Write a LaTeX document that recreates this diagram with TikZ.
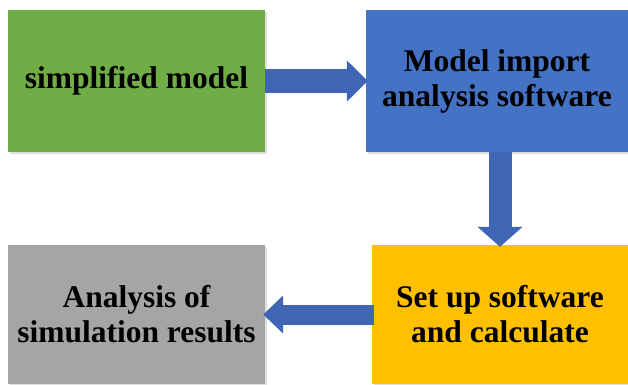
\documentclass[tikz,border=0pt]{standalone}
\usepackage{fontspec}
\setmainfont{Liberation Serif}
\usepackage{xcolor}
\usepackage{tikz}
\usetikzlibrary{calc,arrows.meta,positioning,shadows}
\definecolor{stageGreen}{RGB}{112,173,71}
\definecolor{stageBlue}{RGB}{68,114,196}
\definecolor{stageGray}{RGB}{165,165,165}
\definecolor{stageYellow}{RGB}{255,192,0}
\definecolor{flowBlue}{RGB}{64,101,180}

\tikzset{
  stagebox/.style={draw=none, inner sep=0pt, align=center,
    font=\bfseries\fontsize{31.5}{35}\selectfont,
    drop shadow={shadow xshift=2pt, shadow yshift=-2pt, opacity=0.25}},
  flowarrow/.style={flowBlue, line width=#1, line cap=butt}
}

\begin{document}
\begin{tikzpicture}[x=1pt,y=1pt]
\useasboundingbox (0,0) rectangle (628,384);
\fill[white] (0,0) rectangle (628,384);
% the four stages
\node[stagebox, fill=stageGreen, minimum width=257pt, minimum height=142pt] (simp) at (136.5,303) {simplified model};
\node[stagebox, fill=stageBlue, minimum width=262pt, minimum height=142pt] (imp) at (497,303) {Model import\\analysis software};
\node[stagebox, fill=stageYellow, minimum width=256pt, minimum height=139pt] (calc) at (500,69.5) {Set up software\\and calculate};
\node[stagebox, fill=stageGray, minimum width=257pt, minimum height=139pt] (res) at (136.5,69.5) {Analysis of\\simulation results};
% block arrows
\draw[flowarrow=24pt, -{Triangle[length=21pt,width=40pt]}, shorten >=-2pt] (simp.east) -- (imp.west);
\draw[flowarrow=23pt, -{Triangle[length=20pt,width=44pt]}, shorten >=-2pt] (calc.north |- imp.south) -- (calc.north);
\draw[flowarrow=20pt, -{Triangle[length=20pt,width=37pt]}, shorten >=-2pt, shorten <=-2pt] (calc.west) -- (res.east);
\end{tikzpicture}
\end{document}
